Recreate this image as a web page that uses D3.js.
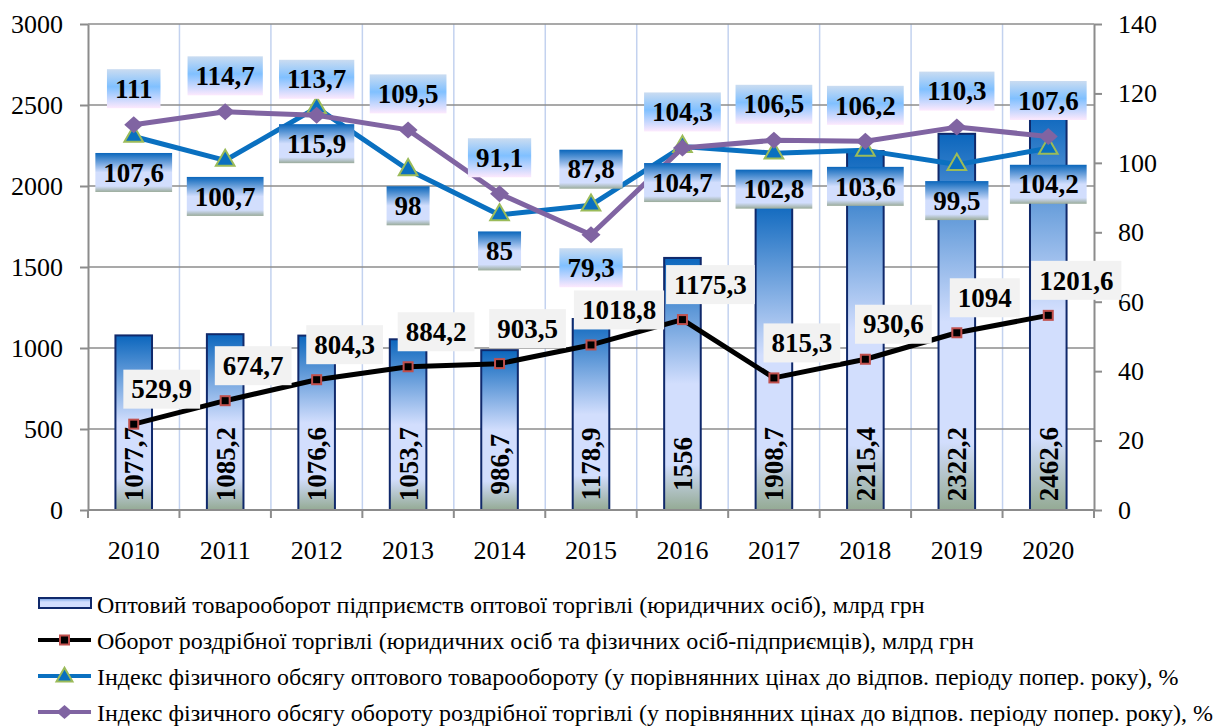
<!DOCTYPE html>
<html>
<head>
<meta charset="utf-8">
<script src="https://cdn.jsdelivr.net/npm/d3@7"></script>
<style>
  html, body { margin: 0; padding: 0; background: #fff; }
  svg { display: block; }
  text { font-family: "Liberation Serif", "DejaVu Serif", serif; }
</style>
</head>
<body>
<div id="chart"></div>
<script>
const years = ['2010', '2011', '2012', '2013', '2014', '2015', '2016', '2017', '2018', '2019', '2020']
const wholesaleTurnover = [1077.7, 1085.2, 1076.6, 1053.7, 986.7, 1178.9, 1556, 1908.7, 2215.4, 2322.2, 2462.6]
const retailTurnover = [529.9, 674.7, 804.3, 884.2, 903.5, 1018.8, 1175.3, 815.3, 930.6, 1094, 1201.6]
const wholesaleIndex = [107.6, 100.7, 115.9, 98, 85, 87.8, 104.7, 102.8, 103.6, 99.5, 104.2]
const retailIndex = [111, 114.7, 113.7, 109.5, 91.1, 79.3, 104.3, 106.5, 106.2, 110.3, 107.6]
const leftTicks = [0, 500, 1000, 1500, 2000, 2500, 3000]
const rightTicks = [0, 20, 40, 60, 80, 100, 120, 140]
const seriesNames = [
  'Оптовий товарооборот підприємств оптової торгівлі (юридичних осіб), млрд грн',
  'Оборот роздрібної торгівлі (юридичних осіб та фізичних осіб-підприємців), млрд грн',
  'Індекс фізичного обсягу оптового товарообороту (у порівнянних цінах до відпов. періоду попер. року), %',
  'Індекс фізичного обсягу обороту роздрібної торгівлі (у порівнянних цінах до відпов. періоду попер. року), %',
]
// years where the index labels swap sides
const flipYears = ['2015']

const width = 1215
const height = 727
const plot = { left: 88, right: 1094, top: 24, bottom: 510 }
const serif = '"Liberation Serif", "DejaVu Serif", serif'

const fmt = (v) => String(v).replace('.', ',')

const svg = d3.select('#chart').append('svg')
  .attr('width', width)
  .attr('height', height)
  .attr('font-family', serif)

const defs = svg.append('defs')

function gradient(id, stops) {
  const g = defs.append('linearGradient')
    .attr('id', id)
    .attr('x1', 0).attr('y1', 0).attr('x2', 0).attr('y2', 1)
  stops.forEach(([o, c]) => g.append('stop').attr('offset', o).attr('stop-color', c))
}

gradient('barGrad', [[0, '#0b66bd'], [0.5, '#d2defd'], [0.82, '#d2defd'], [1, '#94aa94']])
gradient('blueLabelGrad', [[0, '#0a66bb'], [0.5, '#d2defd'], [0.85, '#d2defd'], [1, '#9aab9a']])
gradient('purpleLabelGrad', [[0, '#cadcf1'], [0.45, '#80c0ff'], [1, '#fde9fd']])
gradient('legendGrad', [[0, '#6b9be0'], [0.4, '#d2defd'], [1, '#d2defd']])

const x = d3.scaleBand().domain(years).range([plot.left, plot.right]).paddingInner(0).paddingOuter(0)
const yL = d3.scaleLinear().domain([0, 3000]).range([plot.bottom, plot.top])
const yR = d3.scaleLinear().domain([0, 140]).range([plot.bottom, plot.top])
const cx = (yr) => x(yr) + x.bandwidth() / 2

// vertical grid at category boundaries
svg.append('g')
  .selectAll('line')
  .data(years.slice(1))
  .join('line')
  .attr('x1', (d) => x(d)).attr('x2', (d) => x(d))
  .attr('y1', plot.top).attr('y2', plot.bottom)
  .attr('stroke', '#c3d2ef')
  .attr('stroke-width', 1.5)

// horizontal grid
svg.append('g')
  .selectAll('line')
  .data(leftTicks.slice(1))
  .join('line')
  .attr('x1', plot.left).attr('x2', plot.right)
  .attr('y1', (d) => yL(d)).attr('y2', (d) => yL(d))
  .attr('stroke', '#8c8c8c')
  .attr('stroke-width', 1.5)

// bars
const barW = x.bandwidth() * 0.4
svg.append('g')
  .selectAll('rect')
  .data(years)
  .join('rect')
  .attr('x', (d) => cx(d) - barW / 2)
  .attr('y', (d, i) => yL(wholesaleTurnover[i]))
  .attr('width', barW)
  .attr('height', (d, i) => yL(0) - yL(wholesaleTurnover[i]))
  .attr('fill', 'url(#barGrad)')
  .attr('stroke', '#10296b')
  .attr('stroke-width', 2)

svg.append('g')
  .selectAll('text')
  .data(years)
  .join('text')
  .attr('transform', (d) => `translate(${cx(d)},${plot.bottom - 46}) rotate(-90)`)
  .attr('text-anchor', 'middle')
  .attr('dy', '0.35em')
  .attr('font-size', 27)
  .attr('font-weight', 'bold')
  .text((d, i) => fmt(wholesaleTurnover[i]))

// axes
function styleAxis(g) {
  g.attr('font-family', serif)
  g.select('.domain').attr('stroke', '#8c8c8c').attr('stroke-width', 2)
  g.selectAll('.tick line').attr('stroke', '#8c8c8c').attr('stroke-width', 2)
  g.selectAll('.tick text').attr('font-size', 26).attr('fill', '#000')
}

svg.append('g')
  .attr('transform', `translate(${plot.left},0)`)
  .call(d3.axisLeft(yL).tickValues(leftTicks).tickSize(8).tickSizeOuter(0).tickPadding(17).tickFormat(d3.format('d')))
  .call(styleAxis)

svg.append('g')
  .attr('transform', `translate(${plot.right},0)`)
  .call(d3.axisRight(yR).tickValues(rightTicks).tickSize(8).tickSizeOuter(0).tickPadding(16).tickFormat(d3.format('d')))
  .call(styleAxis)

const xAxis = svg.append('g')
  .attr('transform', `translate(0,${plot.bottom})`)
  .call(d3.axisBottom(x).tickSize(0).tickPadding(31))
  .call(styleAxis)
xAxis.select('.domain').attr('d', `M${plot.left},0H${plot.right}`)

xAxis.selectAll('.boundary')
  .data(years.map((d) => x(d)).concat([plot.right]))
  .join('line')
  .attr('class', 'boundary')
  .attr('x1', (d) => d).attr('x2', (d) => d)
  .attr('y1', 0).attr('y2', 8)
  .attr('stroke', '#8c8c8c')
  .attr('stroke-width', 2)

// lines
function drawLine(values, scale, color) {
  const line = d3.line()
    .x((d, i) => cx(years[i]))
    .y((d) => scale(d))
  svg.append('path')
    .datum(values)
    .attr('d', line)
    .attr('fill', 'none')
    .attr('stroke', color)
    .attr('stroke-width', 5)
    .attr('stroke-linejoin', 'round')
}

drawLine(wholesaleIndex, yR, '#0a70c0')
svg.append('g')
  .selectAll('path')
  .data(wholesaleIndex)
  .join('path')
  .attr('transform', (d, i) => `translate(${cx(years[i])},${yR(d)})`)
  .attr('d', d3.symbol(d3.symbolTriangle, 150))
  .attr('fill', '#0a70c0')
  .attr('stroke', '#9bbb59')
  .attr('stroke-width', 2)

drawLine(retailIndex, yR, '#8064a2')
svg.append('g')
  .selectAll('path')
  .data(retailIndex)
  .join('path')
  .attr('transform', (d, i) => `translate(${cx(years[i])},${yR(d)})`)
  .attr('d', 'M0,-8.5L9.5,0L0,8.5L-9.5,0Z')
  .attr('fill', '#8064a2')

drawLine(retailTurnover, yL, '#000')
svg.append('g')
  .selectAll('rect')
  .data(retailTurnover)
  .join('rect')
  .attr('x', (d, i) => cx(years[i]) - 4.5)
  .attr('y', (d) => yL(d) - 4.5)
  .attr('width', 9)
  .attr('height', 9)
  .attr('fill', '#000')
  .attr('stroke', '#c0504d')
  .attr('stroke-width', 2)

// data labels
function drawLabels(values, px, py, fill) {
  const g = svg.append('g')
  values.forEach((v, i) => {
    const lg = g.append('g').attr('transform', `translate(${px(i)},${py(i)})`)
    const rect = lg.append('rect').attr('fill', fill)
    const t = lg.append('text')
      .attr('text-anchor', 'middle')
      .attr('dy', '0.34em')
      .attr('font-size', 27)
      .attr('font-weight', 'bold')
      .text(fmt(v))
    const w = t.node().getComputedTextLength() + 16
    rect.attr('x', -w / 2).attr('y', -19.5).attr('width', w).attr('height', 39)
  })
}

drawLabels(
  wholesaleIndex,
  (i) => cx(years[i]),
  (i) => yR(wholesaleIndex[i]) + (flipYears.includes(years[i]) ? -36 : 36),
  'url(#blueLabelGrad)',
)
drawLabels(
  retailIndex,
  (i) => cx(years[i]),
  (i) => yR(retailIndex[i]) + (flipYears.includes(years[i]) ? 33 : -36),
  'url(#purpleLabelGrad)',
)
drawLabels(
  retailTurnover,
  (i) => cx(years[i]) + 28,
  (i) => yL(retailTurnover[i]) - 35,
  '#f2f2f2',
)

// legend
const legend = svg.append('g').attr('transform', 'translate(0,613)')
const legendItems = legend.selectAll('g')
  .data(seriesNames)
  .join('g')
  .attr('transform', (d, i) => `translate(0,${i * 36})`)

legendItems.append('text')
  .attr('x', 97)
  .attr('font-size', 24)
  .attr('fill', '#000')
  .text((d) => d)

legendItems.filter((d, i) => i === 0)
  .append('rect')
  .attr('x', 39).attr('y', -15).attr('width', 52).attr('height', 10)
  .attr('fill', 'url(#legendGrad)')
  .attr('stroke', '#10296b')
  .attr('stroke-width', 2)

const legendLine = [null, '#000', '#0a70c0', '#8064a2']
legendItems.filter((d, i) => i > 0)
  .append('line')
  .attr('x1', 38).attr('x2', 91)
  .attr('y1', -9).attr('y2', -9)
  .attr('stroke', (d, i) => legendLine[i + 1])
  .attr('stroke-width', 4)

legendItems.filter((d, i) => i === 1)
  .append('rect')
  .attr('x', 60).attr('y', -13.5).attr('width', 9).attr('height', 9)
  .attr('fill', '#000').attr('stroke', '#c0504d').attr('stroke-width', 2)

legendItems.filter((d, i) => i === 2)
  .append('path')
  .attr('transform', 'translate(64.5,-8)')
  .attr('d', d3.symbol(d3.symbolTriangle, 110))
  .attr('fill', '#0a70c0').attr('stroke', '#9bbb59').attr('stroke-width', 2)

legendItems.filter((d, i) => i === 3)
  .append('path')
  .attr('transform', 'translate(64.5,-9)')
  .attr('d', 'M0,-7L8,0L0,7L-8,0Z')
  .attr('fill', '#8064a2')
</script>
</body>
</html>
